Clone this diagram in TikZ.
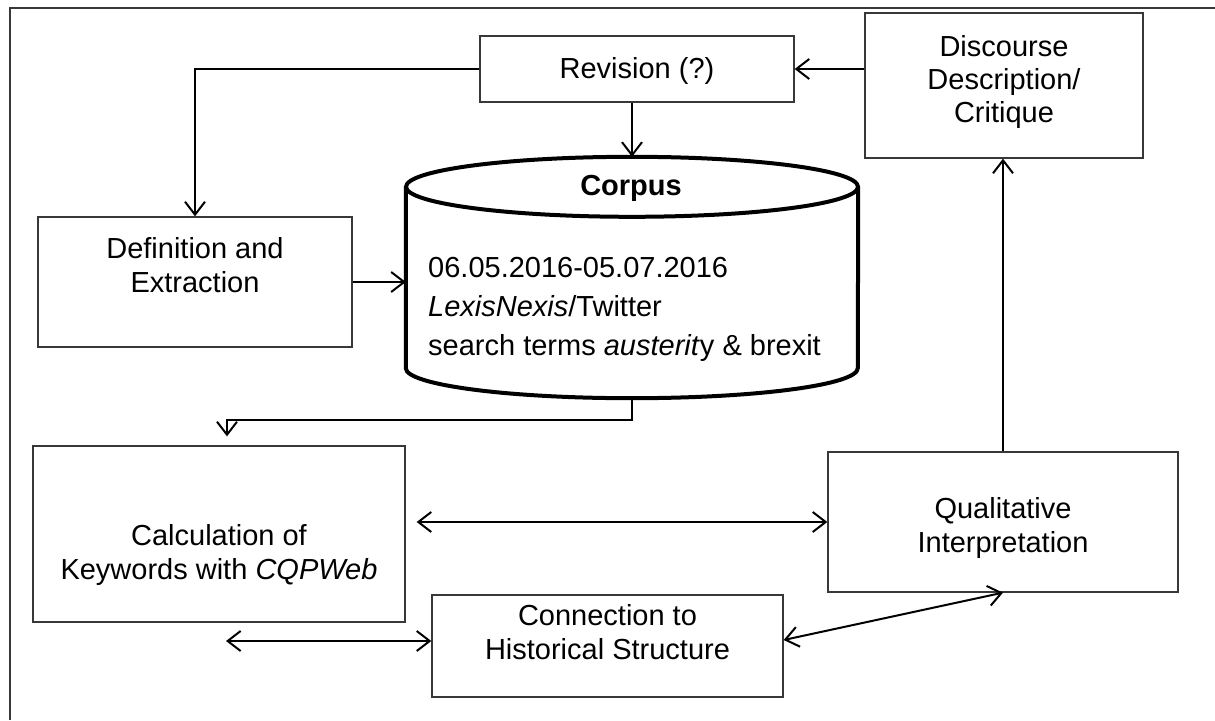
\documentclass[tikz,border=0pt]{standalone}
\usepackage{fontspec}
\setmainfont{Liberation Sans}
\usetikzlibrary{arrows.meta}
\definecolor{boxgray}{gray}{0.22}
\begin{document}
\begin{tikzpicture}[x=1pt,y=-1pt,
  box/.style={draw=boxgray, line width=1.3pt, rectangle, inner sep=0pt},
  txt/.style={align=center, inner sep=0pt, font={\fontsize{29pt}{34.5pt}\selectfont}},
  tip/.tip={Straight Barb[length=13pt,width=20pt]},
  arr/.style={draw=black, line width=2pt, -tip},
  darr/.style={draw=black, line width=2pt, tip-tip},
  cyl/.style={draw=black, line width=4pt},
  frame/.style={draw=boxgray, line width=1.6pt}
]
\useasboundingbox (0,0) rectangle (1215,720);
\draw[frame] (10,720) -- (10,8) -- (1215,8);

% boxes
\node[box, minimum width=314pt, minimum height=66pt] (rev) at (637,69) {};
\node[box, minimum width=278pt, minimum height=145pt] (disc) at (1004,85.5) {};
\node[box, minimum width=314pt, minimum height=130pt] (def) at (195,282) {};
\node[box, minimum width=372pt, minimum height=176pt] (calc) at (219,534) {};
\node[box, minimum width=350pt, minimum height=140pt] (qual) at (1003,522) {};
\node[box, minimum width=351pt, minimum height=102pt] (conn) at (607.5,646) {};
\node[minimum width=452pt, minimum height=241pt, inner sep=0pt] (corpus) at (632,277.5) {};

% cylinder
\draw[cyl] ([yshift=-30pt]corpus.north west) -- ([yshift=30pt]corpus.south west)
  arc[start angle=180, end angle=360, x radius=226pt, y radius=30pt]
  -- ([yshift=-30pt]corpus.north east);
\draw[cyl] ([yshift=-30pt]corpus.north) ellipse[x radius=226pt, y radius=30pt];

% texts
\node[txt] (revT) at (637,71) {Revision (?)};
\node[txt, font={\fontsize{29pt}{33pt}\selectfont}] (discT) at (1004,82) {Discourse\\Description/\\Critique};
\node[txt] (defT) at (195,265) {Definition and\\Extraction};
\node[txt] (calcT) at (219,555) {Calculation of\\Keywords with \textit{CQPWeb}};
\node[txt] (qualT) at (1003,528) {Qualitative\\Interpretation};
\node[txt] (connT) at (607.5,632) {Connection to\\Historical Structure};
\node[txt, font={\fontsize{29pt}{34.5pt}\selectfont\bfseries}] (corpT) at (631,188) {Corpus};
\node[txt, align=left, anchor=west, font={\fontsize{29pt}{39pt}\selectfont}] (corpB) at (428,309)
  {06.05.2016-05.07.2016\\\textit{LexisNexis}/Twitter\\search terms \textit{austerit}y \& brexit};

% connectors
\draw[arr] (disc.west |- rev.east) -- (rev.east);
\draw[arr] (rev.west) -| (def.north);
\draw[arr] (rev.south -| corpus.north) -- (corpus.north);
\draw[arr] (def.east) -- (def.east -| corpus.west);
\draw[arr, shorten >=9pt] (corpus.south) -- ++(0,22) -| ([xshift=8pt]calc.north);
\draw[darr, shorten <=11pt] (calc.east |- qual.west) -- (qual.west);
\coordinate (cl) at (226,641);
\draw[darr] (cl) -- (cl -| conn.west);
\draw[darr] ([yshift=6pt]conn.east) -- (qual.south);
\draw[arr] (qual.north) -- (qual.north |- disc.south);
\end{tikzpicture}
\end{document}
